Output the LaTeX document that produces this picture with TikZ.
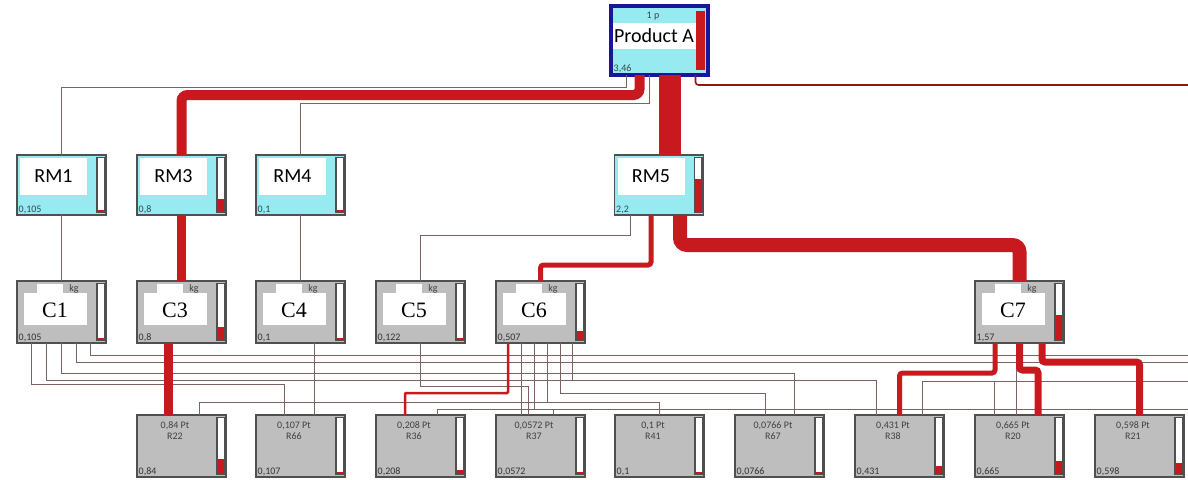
\documentclass[tikz,border=0pt]{standalone}
\usepackage{fontspec}
\setmainfont{Carlito}
\newfontfamily\serifcap{Liberation Serif}
\usetikzlibrary{positioning,calc}

\definecolor{flowred}{RGB}{200,26,30}
\definecolor{linkbrown}{RGB}{125,98,98}
\definecolor{rmcyan}{RGB}{150,234,240}
\definecolor{boxgray}{RGB}{190,190,190}
\definecolor{framegray}{RGB}{80,80,80}
\definecolor{prodnavy}{RGB}{24,24,150}
\definecolor{valcol}{RGB}{55,70,80}

\tikzset{
  boxbase/.style={draw=framegray, line width=1.6pt, inner sep=0pt, outer sep=0pt,
    minimum width=89pt, minimum height=62pt},
  rmbox/.style={boxbase, fill=rmcyan, minimum height=60pt},
  cbox/.style={boxbase, fill=boxgray},
  rbox/.style={boxbase, fill=boxgray},
  prodbox/.style={boxbase, draw=prodnavy, line width=3.5pt, fill=rmcyan,
    minimum width=97pt, minimum height=69pt},
  link/.style={draw=linkbrown, line width=0.9pt},
  flow/.style={draw=flowred, line width=#1, rounded corners=3pt},
  flow/.default=2pt,
  barframe/.style={draw=framegray, line width=1.3pt, fill=white},
  valtext/.style={font=\fontsize{10}{10}\selectfont, text=valcol, inner sep=1pt, anchor=south west},
  bigtext/.style={font=\fontsize{20}{20}\selectfont},
  ctext/.style={font=\serifcap\fontsize{22}{22}\selectfont},
  smalltext/.style={font=\fontsize{10}{11}\selectfont, text=black!75, inner sep=0pt},
}

% level bar at the right side of a box
\newcommand\levelbar[2]{%
  \draw[barframe] ($(#1.north east)+(-9,2.5)$) rectangle ($(#1.south east)+(-1.5,-2.5)$);
  \fill[flowred] ($(#1.south east)+(-8.3,-3.2)$) rectangle
    ($($(#1.south east)+(-2.2,-3.2)$)!#2!($(#1.north east)+(-2.2,3.2)$)$);
}
\newcommand\rmlabel[3]{%
  \fill[white] ($(#1.north west)+(3,3)$) rectangle ($(#1.north west)+(70,40)$);
  \node[bigtext] (#1t) at ($(#1.north west)+(36.5,21.5)$) {#2};
  \node[valtext] (#1v) at ($(#1.south west)+(0.5,-0.5)$) {#3};
}
\newcommand\clabel[3]{%
  \fill[white] ($(#1.north west)+(7,12)$) rectangle ($(#1.north west)+(70,44)$);
  \fill[white] ($(#1.north west)+(20,3)$) rectangle ($(#1.north west)+(46,12)$);
  \node[smalltext] (#1k) at ($(#1.north west)+(57,8)$) {kg};
  \node[ctext] (#1t) at ($(#1.north west)+(38,29)$) {#2};
  \node[valtext, text=black!80] (#1v) at ($(#1.south west)+(0.5,-0.5)$) {#3};
}
\newcommand\rlabel[4]{%
  \node[smalltext, align=center] (#1t) at ($(#1.north west)+(38,16)$) {#2 Pt\\#3};
  \node[valtext, text=black!80] (#1v) at ($(#1.south west)+(0.5,-0.5)$) {#4};
}

\begin{document}
\begin{tikzpicture}[x=1pt, y=-1pt]
\useasboundingbox (0,0) rectangle (1188,479);

% product
\node[prodbox] (ProdA) at (659.5,40.5) {};
\fill[white] ($(ProdA.north west)+(2,17)$) rectangle ($(ProdA.north east)+(-12,43)$);
\node[bigtext] (ProdAt) at ($(ProdA.north west)+(43,30)$) {Product A};
\node[smalltext] (ProdAq) at ($(ProdA.north west)+(42,10)$) {1 p};
\node[valtext] (ProdAv) at ($(ProdA.south west)+(1.5,-1.5)$) {3,46};
\fill[flowred] ($(ProdA.north east)+(-12,5)$) rectangle ($(ProdA.south east)+(-3.5,-5)$);

% raw materials
\node[rmbox] (RM1) at (61.5,185) {};
\node[rmbox] (RM3) at (181.5,185) {};
\node[rmbox] (RM4) at (300.5,185) {};
\node[rmbox] (RM5) at (659,185) {};
\rmlabel{RM1}{RM1}{0,105}
\rmlabel{RM3}{RM3}{0,8}
\rmlabel{RM4}{RM4}{0,1}
\rmlabel{RM5}{RM5}{2,2}
\levelbar{RM1}{0.03}
\levelbar{RM3}{0.24}
\levelbar{RM4}{0.03}
\levelbar{RM5}{0.62}

% components
\node[cbox] (C1) at (61.5,312) {};
\node[cbox] (C3) at (181.5,312) {};
\node[cbox] (C4) at (300.5,312) {};
\node[cbox] (C5) at (420.5,312) {};
\node[cbox] (C6) at (540.5,312) {};
\node[cbox] (C7) at (1019.5,312) {};
\clabel{C1}{C1}{0,105}
\clabel{C3}{C3}{0,8}
\clabel{C4}{C4}{0,1}
\clabel{C5}{C5}{0,122}
\clabel{C6}{C6}{0,507}
\clabel{C7}{C7}{1,57}
\levelbar{C1}{0.04}
\levelbar{C3}{0.23}
\levelbar{C4}{0.04}
\levelbar{C5}{0.04}
\levelbar{C6}{0.15}
\levelbar{C7}{0.45}

% resources
\node[rbox] (R22) at (181.5,446) {};
\node[rbox] (R66) at (300.5,446) {};
\node[rbox] (R36) at (420.5,446) {};
\node[rbox] (R37) at (540.5,446) {};
\node[rbox] (R41) at (659.5,446) {};
\node[rbox] (R67) at (779.5,446) {};
\node[rbox] (R38) at (899.5,446) {};
\node[rbox] (R20) at (1019.5,446) {};
\node[rbox] (R21) at (1139.5,446) {};
\rlabel{R22}{0,84}{R22}{0,84}
\rlabel{R66}{0,107}{R66}{0,107}
\rlabel{R36}{0,208}{R36}{0,208}
\rlabel{R37}{0,0572}{R37}{0,0572}
\rlabel{R41}{0,1}{R41}{0,1}
\rlabel{R67}{0,0766}{R67}{0,0766}
\rlabel{R38}{0,431}{R38}{0,431}
\rlabel{R20}{0,665}{R20}{0,665}
\rlabel{R21}{0,598}{R21}{0,598}
\levelbar{R22}{0.26}
\levelbar{R66}{0.04}
\levelbar{R36}{0.06}
\levelbar{R37}{0.03}
\levelbar{R41}{0.04}
\levelbar{R67}{0.03}
\levelbar{R38}{0.14}
\levelbar{R20}{0.23}
\levelbar{R21}{0.2}

% loose ends off the right edge
\coordinate (offA) at (1188,85);
\coordinate (offB) at (1188,355);
\coordinate (offC) at (1188,362);
\coordinate (offD) at (1188,381);
\coordinate (offE) at (1188,409);

% thin links
\draw[link] ([xshift=-33pt]ProdA.south) -- ++(0,12) -| (RM1.north);
\draw[link] ([xshift=-10pt]ProdA.south) -- ++(0,28) -| (RM4.north);
\draw[link] (RM1.south) -- (C1.north);
\draw[link] (RM4.south) -- (C4.north);
\draw[link] ([xshift=-29pt]RM5.south) -- ++(0,20) -| (C5.north);

\draw[link] ([xshift=29pt]C1.south) |- (offB);
\draw[link] ([xshift=15pt]C1.south) |- (offC);
\draw[link] (C1.south) -- ++(0,30) -| ([xshift=14.5pt]R67.north);
\draw[link] ([xshift=-15pt]C1.south) -- ++(0,37) -| ([xshift=-23.5pt]R38.north);
\draw[link] ([xshift=-30pt]C1.south) -- ++(0,41) -| ([xshift=-16.5pt]R66.north);
\draw[link] ([xshift=14pt]C4.south) -- ([xshift=14pt]R66.north);
\draw[link] (C5.south) -- ++(0,43) -| ([xshift=-12pt]R37.north);

\draw[link] ([xshift=-19.5pt]C6.south) -- ([xshift=-19.5pt]R37.north);
\draw[link] ([xshift=-6.5pt]C6.south) -- ++(0,66) -| ([xshift=16.5pt]R36.north);
\draw[link] ([xshift=-6.5pt]C6.south) |- (offE);
\draw[link] ([xshift=6.5pt]C6.south) -- ++(0,59) -| ([xshift=17.5pt]R22.north);
\draw[link] ([xshift=6.5pt]C6.south) -- ++(0,59) -| (R41.north);
\draw[link] ([xshift=19.5pt]C6.south) -- ++(0,50) -| ([xshift=-14.5pt]R67.north);
\draw[link] ([xshift=31.5pt]C6.south) -- ++(0,37) -| ([xshift=-23.5pt]R38.north);

\draw[link] ([xshift=12.5pt]R37.north) |- (offE);
\draw[link] ([xshift=22.5pt]R38.north) |- (offD);
\draw[link] ([xshift=-25.5pt]R20.north) |- (offD);
\draw[link] ([xshift=-3.5pt]R20.north) |- (offB);

% red flows
\draw[flow=1.6pt, draw=flowred!75!black] ([xshift=36pt]ProdA.south) |- (offA);
\draw[flow=10pt, rounded corners=6pt] ([xshift=-20pt]ProdA.south) -- ++(0,20) -| (RM3.north);
\draw[flow=22pt] ([xshift=10.5pt]ProdA.south) -- ([xshift=11pt]RM5.north);
\draw[flow=9pt] (RM3.south) -- (C3.north);
\draw[flow=5pt] ([xshift=-8pt]RM5.south) -- ++(0,50) -| (C6.north);
\draw[flow=14pt, rounded corners=7pt] ([xshift=21pt]RM5.south) -- ++(0,30) -| (C7.north);
\draw[flow=9pt] ([xshift=-13.5pt]C3.south) -- ([xshift=-13.5pt]R22.north);
\draw[flow=2.5pt, rounded corners=1pt] ([xshift=-32.5pt]C6.south) -- ++(0,50) -| ([xshift=-15.5pt]R36.north);
\draw[flow=5pt] ([xshift=-24.5pt]C7.south) -- ++(0,30) -| (R38.north);
\draw[flow=7pt] (C7.south) -- ++(0,27) -| ([xshift=18.5pt]R20.north);
\draw[flow=7pt] ([xshift=22.5pt]C7.south) -- ++(0,19) -| (R21.north);
\end{tikzpicture}
\end{document}
